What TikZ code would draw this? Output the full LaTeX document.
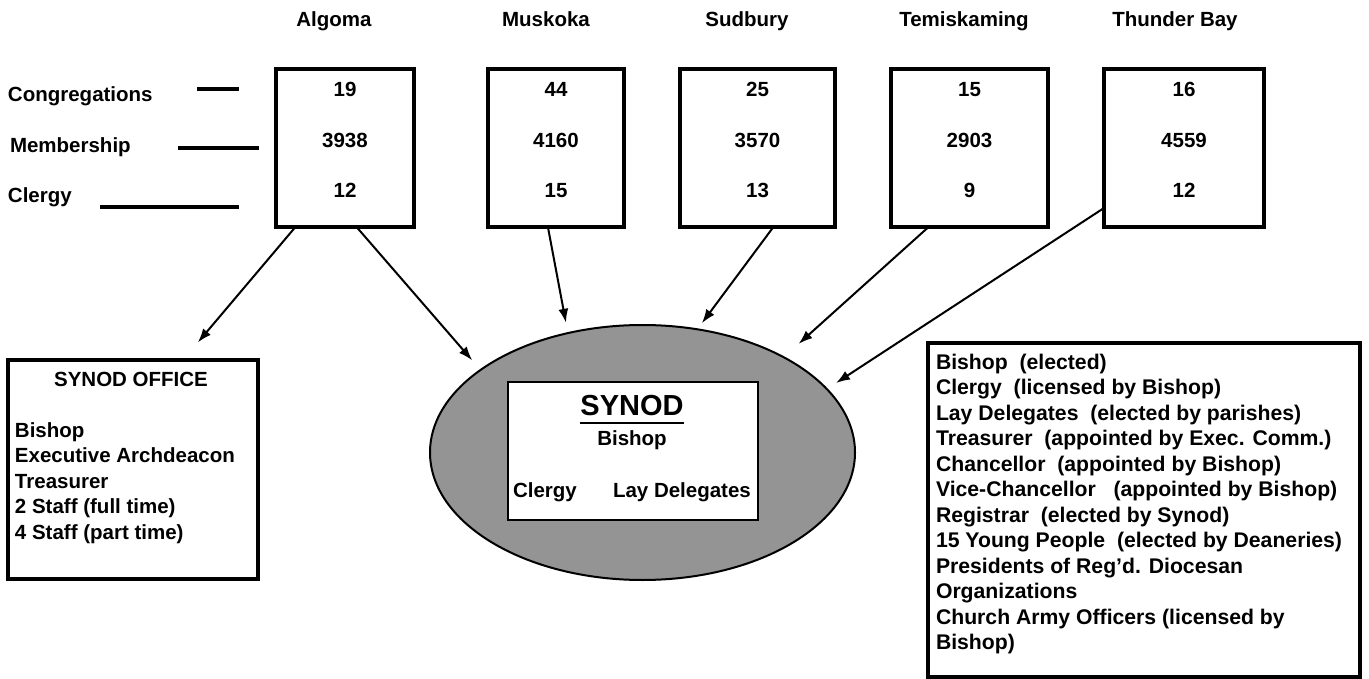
\documentclass[tikz,border=0pt]{standalone}
\usepackage{fontspec}
\setmainfont{Liberation Sans}
\usetikzlibrary{arrows.meta,shapes.geometric}
\begin{document}
\begin{tikzpicture}[x=1pt,y=-1pt,
  every node/.style={font=\bfseries\fontsize{20.5}{25.5}\selectfont, inner sep=0pt, outer sep=0pt},
  distbox/.style={draw, line width=4pt, minimum width=#1, minimum height=158pt},
  listbox/.style={draw, line width=4pt},
  arr/.style={-{Latex[length=14pt,width=10pt]}, line width=2pt},
  dashline/.style={line width=3.5pt}
]
\useasboundingbox[fill=white] (0,0) rectangle (1369,679);

% district titles
\node (tAlg) [anchor=base] at (334,27) {Algoma};
\node (tMus) [anchor=base] at (546,27) {Muskoka};
\node (tSud) [anchor=base] at (747,27) {Sudbury};
\node (tTem) [anchor=base] at (964,27) {Temiskaming};
\node (tThu) [anchor=base] at (1175,27) {Thunder Bay};

% row labels
\node (lCon) [anchor=base west] at (8,102) {Congregations};
\node (lMem) [anchor=base west] at (10,153) {Membership};
\node (lCle) [anchor=base west] at (8,203) {Clergy};
\draw[dashline] (197,89) -- (239,89);
\draw[dashline] (178,148) -- (259,148);
\draw[dashline] (100,207) -- (239,207);

% district boxes
\node (alg) [distbox=138pt] at (345,148.5) {};
\node (mus) [distbox=136pt] at (556,148.5) {};
\node (sud) [distbox=155pt] at (757.5,148.5) {};
\node (tem) [distbox=157pt] at (969.5,148.5) {};
\node (thu) [distbox=160pt] at (1184,148.5) {};

% numbers
\node (a1) [anchor=base] at (345,97) {19};
\node (a2) [anchor=base] at (345,148) {3938};
\node (a3) [anchor=base] at (345,198) {12};
\node (m1) [anchor=base] at (556,97) {44};
\node (m2) [anchor=base] at (556,148) {4160};
\node (m3) [anchor=base] at (556,198) {15};
\node (s1) [anchor=base] at (757.5,97) {25};
\node (s2) [anchor=base] at (757.5,148) {3570};
\node (s3) [anchor=base] at (757.5,198) {13};
\node (e1) [anchor=base] at (969.5,97) {15};
\node (e2) [anchor=base] at (969.5,148) {2903};
\node (e3) [anchor=base] at (969.5,198) {9};
\node (h1) [anchor=base] at (1184,97) {16};
\node (h2) [anchor=base] at (1184,148) {4559};
\node (h3) [anchor=base] at (1184,198) {12};

% synod ellipse
\node (syn) [ellipse, draw, line width=2pt, fill=black!42, minimum width=425pt, minimum height=255pt] at (642.5,452.5) {};
\node (synbox) [draw, line width=2pt, fill=white, minimum width=250pt, minimum height=138pt] at (633,451) {};
\node (synt) [anchor=base, font=\bfseries\fontsize{29}{32}\selectfont] at (632,415) {SYNOD};
\draw[line width=2pt] ([yshift=-8pt]synt.base west) -- ([yshift=-8pt]synt.base east);
\node (synb) [anchor=base] at (632,445) {Bishop};
\node (sync) [anchor=base west] at (513,497) {Clergy};
\node (synl) [anchor=base west] at (613,497) {Lay Delegates};

% synod office box
\node (off) [listbox, minimum width=250pt, minimum height=219pt] at (133,469.5) {};
\node (offt) [anchor=base] at (131,386) {SYNOD OFFICE};
\node (offl) [anchor=north west, align=left] at (15,422.5) {Bishop\\Executive Archdeacon\\Treasurer\\2 Staff (full time)\\4 Staff (part time)};

% membership box
\node (mem) [listbox, minimum width=432pt, minimum height=334pt] at (1144,510) {};
\node (meml) [anchor=north west, align=left, font=\bfseries\fontsize{21.2}{25.5}\selectfont] at (936,354) {Bishop\ \ (elected)\\
Clergy\ \ (licensed by Bishop)\\
Lay Delegates\ \ (elected by parishes)\\
Treasurer\ \ (appointed by Exec. Comm.)\\
Chancellor\ \ (appointed by Bishop)\\
Vice-Chancellor\ \ \ (appointed by Bishop)\\
Registrar\ \ (elected by Synod)\\
15 Young People\ \ (elected by Deaneries)\\
Presidents of Reg'd. Diocesan\\
Organizations\\
Church Army Officers (licensed by\\
Bishop)};

% arrows
\draw[arr, shorten >=23pt] ([xshift=19pt]alg.south west) -- ([xshift=50pt]off.north);
\draw[arr, shorten >=12.7pt] ([xshift=12pt]alg.south) -- (syn.153.8);
\draw[arr, shorten >=10.5pt] ([xshift=-8pt]mus.south) -- (syn.122.4);
\draw[arr, shorten >=7.6pt] ([xshift=15.5pt]sud.south) -- (syn.66.8);
\draw[arr, shorten >=20pt] ([xshift=37pt]tem.south west) -- (syn.34.6);
\draw[arr, shorten >=11pt] ([yshift=-59.5pt]thu.west) -- (syn.19.4);
\end{tikzpicture}
\end{document}
